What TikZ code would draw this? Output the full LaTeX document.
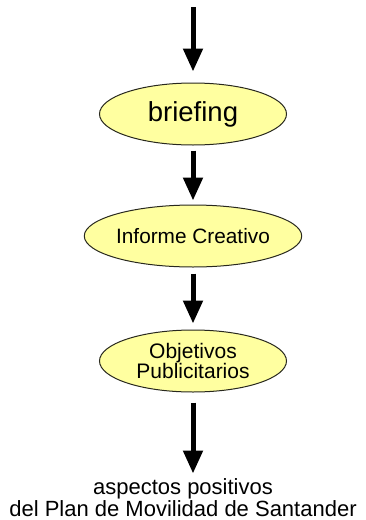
\documentclass[tikz,border=0pt]{standalone}
\usepackage{fontspec}
\setmainfont{Liberation Sans}
\usetikzlibrary{arrows.meta,positioning,shapes.geometric}
\definecolor{bubYellow}{RGB}{255,255,160}
\definecolor{bubLine}{RGB}{40,40,30}
\tikzset{
  bub/.style={ellipse, draw=bubLine, fill=bubYellow, line width=1pt,
              minimum width=187pt, minimum height=62pt, inner sep=0pt, align=center},
  ar/.style={-{Triangle[length=23pt,width=19pt]}, draw=black, line width=5pt},
  txt/.style={align=center, inner sep=0pt},
}
\newcommand{\fsz}[2]{\fontsize{#1}{#2}\selectfont}

\begin{document}
\begin{tikzpicture}[x=1pt, y=-1pt]
\useasboundingbox (0,0) rectangle (366,520);
\coordinate (top) at (193,7);
\node[bub, font=\fsz{27.5}{30}] (brief) at (193,114) {briefing};
\node[bub, below=59pt of brief, font=\fsz{20.8}{22}] (inform) {Informe Creativo};
\node[bub, below=62pt of inform, font=\fsz{21}{20}] (objet) {Objetivos\\Publicitarios};
\node[txt, below=86pt of objet, xshift=-10pt, font=\fsz{22}{20}] (aspect)
  {aspectos positivos\\del Plan de Movilidad de Santander};

\draw[ar, shorten >=11pt] (top) -- (brief);
\draw[ar, shorten <=5pt, shorten >=4pt] (brief) -- (inform);
\draw[ar, shorten <=6pt, shorten >=6pt] (inform) -- (objet);
\draw[ar, shorten <=10pt, shorten >=5pt] (objet.south) -- (objet.south |- aspect.north);
\end{tikzpicture}
\end{document}
